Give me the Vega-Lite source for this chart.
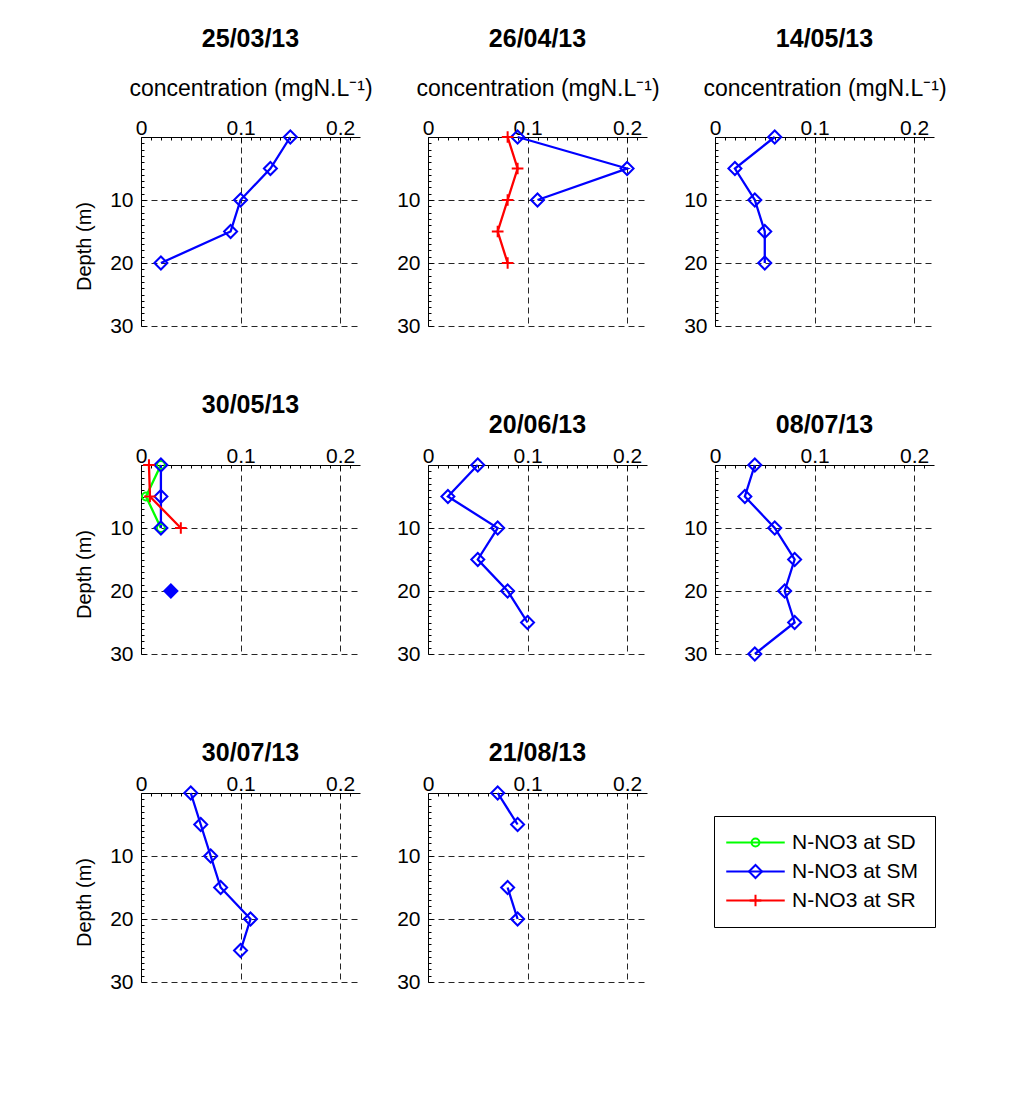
{
  "$schema": "https://vega.github.io/schema/vega-lite/v6.json",
  "background": "white",
  "padding": {"left": 74, "top": 27, "right": 5, "bottom": 5},
  "config": {
    "font": "Liberation Sans",
    "view": {"stroke": null},
    "title": {"fontSize": 25, "fontWeight": "bold", "font": "Liberation Sans", "color": "black", "anchor": "middle"},
    "axis": {
      "labelFont": "Liberation Sans", "labelFontSize": 21, "labelColor": "black",
      "titleFont": "Liberation Sans", "titleFontSize": 23, "titleFontWeight": "normal", "titleColor": "black",
      "domainColor": "black", "domainWidth": 1, "tickColor": "black", "tickWidth": 1,
      "gridColor": "black", "gridDash": [6, 4], "gridOpacity": 0.85, "gridWidth": 1,
      "labelFlush": false, "labelOverlap": false
    },
    "legend": {"labelFont": "Liberation Sans", "labelFontSize": 21, "labelColor": "black"}
  },
  "data": {"values": [
    {"date": "25/03/13", "site": "N-NO3 at SM", "depth": 0, "conc": 0.15},
    {"date": "25/03/13", "site": "N-NO3 at SM", "depth": 5, "conc": 0.13},
    {"date": "25/03/13", "site": "N-NO3 at SM", "depth": 10, "conc": 0.10},
    {"date": "25/03/13", "site": "N-NO3 at SM", "depth": 15, "conc": 0.09},
    {"date": "25/03/13", "site": "N-NO3 at SM", "depth": 20, "conc": 0.02},
    {"date": "26/04/13", "site": "N-NO3 at SM", "depth": 0, "conc": 0.09},
    {"date": "26/04/13", "site": "N-NO3 at SM", "depth": 5, "conc": 0.20},
    {"date": "26/04/13", "site": "N-NO3 at SM", "depth": 10, "conc": 0.11},
    {"date": "26/04/13", "site": "N-NO3 at SR", "depth": 0, "conc": 0.08},
    {"date": "26/04/13", "site": "N-NO3 at SR", "depth": 5, "conc": 0.09},
    {"date": "26/04/13", "site": "N-NO3 at SR", "depth": 10, "conc": 0.08},
    {"date": "26/04/13", "site": "N-NO3 at SR", "depth": 15, "conc": 0.07},
    {"date": "26/04/13", "site": "N-NO3 at SR", "depth": 20, "conc": 0.08},
    {"date": "14/05/13", "site": "N-NO3 at SM", "depth": 0, "conc": 0.06},
    {"date": "14/05/13", "site": "N-NO3 at SM", "depth": 5, "conc": 0.02},
    {"date": "14/05/13", "site": "N-NO3 at SM", "depth": 10, "conc": 0.04},
    {"date": "14/05/13", "site": "N-NO3 at SM", "depth": 15, "conc": 0.05},
    {"date": "14/05/13", "site": "N-NO3 at SM", "depth": 20, "conc": 0.05},
    {"date": "30/05/13", "site": "N-NO3 at SD", "depth": 0, "conc": 0.02},
    {"date": "30/05/13", "site": "N-NO3 at SD", "depth": 5, "conc": 0.005},
    {"date": "30/05/13", "site": "N-NO3 at SD", "depth": 10, "conc": 0.02},
    {"date": "30/05/13", "site": "N-NO3 at SM", "depth": 0, "conc": 0.02},
    {"date": "30/05/13", "site": "N-NO3 at SM", "depth": 5, "conc": 0.02},
    {"date": "30/05/13", "site": "N-NO3 at SM", "depth": 10, "conc": 0.02},
    {"date": "30/05/13", "site": "N-NO3 at SM", "depth": 15, "conc": null},
    {"date": "30/05/13", "site": "N-NO3 at SM", "depth": 20, "conc": 0.03},
    {"date": "30/05/13", "site": "N-NO3 at SR", "depth": 0, "conc": 0.008},
    {"date": "30/05/13", "site": "N-NO3 at SR", "depth": 5, "conc": 0.009},
    {"date": "30/05/13", "site": "N-NO3 at SR", "depth": 10, "conc": 0.04},
    {"date": "20/06/13", "site": "N-NO3 at SM", "depth": 0, "conc": 0.05},
    {"date": "20/06/13", "site": "N-NO3 at SM", "depth": 5, "conc": 0.02},
    {"date": "20/06/13", "site": "N-NO3 at SM", "depth": 10, "conc": 0.07},
    {"date": "20/06/13", "site": "N-NO3 at SM", "depth": 15, "conc": 0.05},
    {"date": "20/06/13", "site": "N-NO3 at SM", "depth": 20, "conc": 0.08},
    {"date": "20/06/13", "site": "N-NO3 at SM", "depth": 25, "conc": 0.10},
    {"date": "08/07/13", "site": "N-NO3 at SM", "depth": 0, "conc": 0.04},
    {"date": "08/07/13", "site": "N-NO3 at SM", "depth": 5, "conc": 0.03},
    {"date": "08/07/13", "site": "N-NO3 at SM", "depth": 10, "conc": 0.06},
    {"date": "08/07/13", "site": "N-NO3 at SM", "depth": 15, "conc": 0.08},
    {"date": "08/07/13", "site": "N-NO3 at SM", "depth": 20, "conc": 0.07},
    {"date": "08/07/13", "site": "N-NO3 at SM", "depth": 25, "conc": 0.08},
    {"date": "08/07/13", "site": "N-NO3 at SM", "depth": 30, "conc": 0.04},
    {"date": "30/07/13", "site": "N-NO3 at SM", "depth": 0, "conc": 0.05},
    {"date": "30/07/13", "site": "N-NO3 at SM", "depth": 5, "conc": 0.06},
    {"date": "30/07/13", "site": "N-NO3 at SM", "depth": 10, "conc": 0.07},
    {"date": "30/07/13", "site": "N-NO3 at SM", "depth": 15, "conc": 0.08},
    {"date": "30/07/13", "site": "N-NO3 at SM", "depth": 20, "conc": 0.11},
    {"date": "30/07/13", "site": "N-NO3 at SM", "depth": 25, "conc": 0.10},
    {"date": "21/08/13", "site": "N-NO3 at SM", "depth": 0, "conc": 0.07},
    {"date": "21/08/13", "site": "N-NO3 at SM", "depth": 5, "conc": 0.09},
    {"date": "21/08/13", "site": "N-NO3 at SM", "depth": 10, "conc": null},
    {"date": "21/08/13", "site": "N-NO3 at SM", "depth": 15, "conc": 0.08},
    {"date": "21/08/13", "site": "N-NO3 at SM", "depth": 20, "conc": 0.09}
  ]},
  "columns": 3,
  "bounds": "flush",
  "spacing": {"row": 139, "column": 68},
  "concat": [
    {
      "title": {"text": "25/03/13", "frame": "group", "offset": 25},
      "width": 219, "height": 189,
      "transform": [{"filter": "datum.date === '25/03/13'"}],
      "layer": [
        {"mark": {"type": "line", "strokeWidth": 2.3, "invalid": "break-paths-show-domains"},
         "encoding": {
           "x": {"field": "conc", "type": "quantitative", "scale": {"domain": [0, 0.22], "nice": false, "zero": false}, "axis": {"orient": "top", "values": [0, 0.1, 0.2], "format": "~g", "grid": true, "tickSize": -5, "labelPadding": 4, "title": "concentration (mgN.L⁻¹)", "titlePadding": 17}},
           "y": {"field": "depth", "type": "quantitative", "scale": {"domain": [0, 30], "reverse": true, "nice": false, "zero": false}, "axis": {"orient": "left", "values": [10, 20, 30], "grid": true, "tickSize": -5, "labelPadding": 13, "title": "Depth (m)", "titleFontSize": 20, "titlePadding": 15, "titleY": 109}},
           "stroke": {"field": "site", "type": "nominal", "scale": {"range": ["#00ff00", "#0000ff", "#ff0000"]},
             "legend": {"title": null, "orient": "none", "legendX": 573, "legendY": 679, "strokeColor": "black", "padding": 16, "labelOffset": 26, "labelOpacity": 0, "symbolSize": 169, "symbolOffset": 15, "symbolType": "M-4.5,0H4.5", "symbolStrokeWidth": 2, "rowPadding": 7}},
           "order": {"field": "depth", "type": "quantitative"}
         }},
        {"mark": {"type": "point", "filled": false, "size": 169, "strokeWidth": 2, "opacity": 1},
         "encoding": {
           "x": {"field": "conc", "type": "quantitative", "axis": {"orient": "top", "values": [0.01,0.02,0.03,0.04,0.05,0.06,0.07,0.08,0.09,0.11,0.12,0.13,0.14,0.15,0.16,0.17,0.18,0.19,0.21], "labels": false, "grid": false, "domain": false, "tickSize": -3, "title": null}},
           "y": {"field": "depth", "type": "quantitative", "axis": {"orient": "left", "values": [1,2,3,4,5,6,7,8,9,11,12,13,14,15,16,17,18,19,21,22,23,24,25,26,27,28,29], "labels": false, "grid": false, "domain": false, "tickSize": -3, "title": null}},
           "color": {"field": "site", "type": "nominal", "scale": {"domain": ["N-NO3 at SD", "N-NO3 at SM", "N-NO3 at SR"], "range": ["#00ff00", "#0000ff", "#ff0000"]},
             "legend": {"title": null, "orient": "none", "legendX": 573, "legendY": 679, "padding": 16, "labelOffset": 26, "symbolSize": 169, "symbolOffset": 15, "symbolStrokeWidth": 2, "rowPadding": 7}},
           "shape": {"field": "site", "type": "nominal", "scale": {"domain": ["N-NO3 at SD", "N-NO3 at SM", "N-NO3 at SR"], "range": ["M0.6,0A0.6,0.6 0 1,1 -0.6,0A0.6,0.6 0 1,1 0.6,0", "diamond", "M-0.9,0H0.9M0,-0.9V0.9"]},
             "legend": {"title": null, "orient": "none", "legendX": 573, "legendY": 679, "padding": 16, "labelOffset": 26, "symbolSize": 169, "symbolOffset": 15, "symbolStrokeWidth": 2, "rowPadding": 7}}
         }}
      ],
      "resolve": {"axis": {"x": "independent", "y": "independent"}}
    },
    {
      "title": {"text": "26/04/13", "frame": "group", "offset": 25},
      "width": 219, "height": 189,
      "transform": [{"filter": "datum.date === '26/04/13'"}],
      "layer": [
        {"mark": {"type": "line", "strokeWidth": 2.3, "invalid": "break-paths-show-domains"},
         "encoding": {
           "x": {"field": "conc", "type": "quantitative", "scale": {"domain": [0, 0.22], "nice": false, "zero": false}, "axis": {"orient": "top", "values": [0, 0.1, 0.2], "format": "~g", "grid": true, "tickSize": -5, "labelPadding": 4, "title": "concentration (mgN.L⁻¹)", "titlePadding": 17}},
           "y": {"field": "depth", "type": "quantitative", "scale": {"domain": [0, 30], "reverse": true, "nice": false, "zero": false}, "axis": {"orient": "left", "values": [10, 20, 30], "grid": true, "tickSize": -5, "labelPadding": 13, "title": null}},
           "stroke": {"field": "site", "type": "nominal", "scale": {"range": ["#00ff00", "#0000ff", "#ff0000"]}},
           "order": {"field": "depth", "type": "quantitative"}
         }},
        {"mark": {"type": "point", "filled": false, "size": 169, "strokeWidth": 2, "opacity": 1},
         "encoding": {
           "x": {"field": "conc", "type": "quantitative", "axis": {"orient": "top", "values": [0.01,0.02,0.03,0.04,0.05,0.06,0.07,0.08,0.09,0.11,0.12,0.13,0.14,0.15,0.16,0.17,0.18,0.19,0.21], "labels": false, "grid": false, "domain": false, "tickSize": -3, "title": null}},
           "y": {"field": "depth", "type": "quantitative", "axis": {"orient": "left", "values": [1,2,3,4,5,6,7,8,9,11,12,13,14,15,16,17,18,19,21,22,23,24,25,26,27,28,29], "labels": false, "grid": false, "domain": false, "tickSize": -3, "title": null}},
           "color": {"field": "site", "type": "nominal", "scale": {"domain": ["N-NO3 at SD", "N-NO3 at SM", "N-NO3 at SR"], "range": ["#00ff00", "#0000ff", "#ff0000"]}},
           "shape": {"field": "site", "type": "nominal", "scale": {"domain": ["N-NO3 at SD", "N-NO3 at SM", "N-NO3 at SR"], "range": ["M0.6,0A0.6,0.6 0 1,1 -0.6,0A0.6,0.6 0 1,1 0.6,0", "diamond", "M-0.9,0H0.9M0,-0.9V0.9"]}}
         }}
      ],
      "resolve": {"axis": {"x": "independent", "y": "independent"}}
    },
    {
      "title": {"text": "14/05/13", "frame": "group", "offset": 25},
      "width": 219, "height": 189,
      "transform": [{"filter": "datum.date === '14/05/13'"}],
      "layer": [
        {"mark": {"type": "line", "strokeWidth": 2.3, "invalid": "break-paths-show-domains"},
         "encoding": {
           "x": {"field": "conc", "type": "quantitative", "scale": {"domain": [0, 0.22], "nice": false, "zero": false}, "axis": {"orient": "top", "values": [0, 0.1, 0.2], "format": "~g", "grid": true, "tickSize": -5, "labelPadding": 4, "title": "concentration (mgN.L⁻¹)", "titlePadding": 17}},
           "y": {"field": "depth", "type": "quantitative", "scale": {"domain": [0, 30], "reverse": true, "nice": false, "zero": false}, "axis": {"orient": "left", "values": [10, 20, 30], "grid": true, "tickSize": -5, "labelPadding": 13, "title": null}},
           "stroke": {"field": "site", "type": "nominal", "scale": {"range": ["#00ff00", "#0000ff", "#ff0000"]}},
           "order": {"field": "depth", "type": "quantitative"}
         }},
        {"mark": {"type": "point", "filled": false, "size": 169, "strokeWidth": 2, "opacity": 1},
         "encoding": {
           "x": {"field": "conc", "type": "quantitative", "axis": {"orient": "top", "values": [0.01,0.02,0.03,0.04,0.05,0.06,0.07,0.08,0.09,0.11,0.12,0.13,0.14,0.15,0.16,0.17,0.18,0.19,0.21], "labels": false, "grid": false, "domain": false, "tickSize": -3, "title": null}},
           "y": {"field": "depth", "type": "quantitative", "axis": {"orient": "left", "values": [1,2,3,4,5,6,7,8,9,11,12,13,14,15,16,17,18,19,21,22,23,24,25,26,27,28,29], "labels": false, "grid": false, "domain": false, "tickSize": -3, "title": null}},
           "color": {"field": "site", "type": "nominal", "scale": {"domain": ["N-NO3 at SD", "N-NO3 at SM", "N-NO3 at SR"], "range": ["#00ff00", "#0000ff", "#ff0000"]}},
           "shape": {"field": "site", "type": "nominal", "scale": {"domain": ["N-NO3 at SD", "N-NO3 at SM", "N-NO3 at SR"], "range": ["M0.6,0A0.6,0.6 0 1,1 -0.6,0A0.6,0.6 0 1,1 0.6,0", "diamond", "M-0.9,0H0.9M0,-0.9V0.9"]}}
         }}
      ],
      "resolve": {"axis": {"x": "independent", "y": "independent"}}
    },
    {
      "title": {"text": "30/05/13", "frame": "group", "offset": 27},
      "width": 219, "height": 189,
      "transform": [{"filter": "datum.date === '30/05/13'"}],
      "layer": [
        {"mark": {"type": "line", "strokeWidth": 2.3, "invalid": "break-paths-show-domains"},
         "encoding": {
           "x": {"field": "conc", "type": "quantitative", "scale": {"domain": [0, 0.22], "nice": false, "zero": false}, "axis": {"orient": "top", "values": [0, 0.1, 0.2], "format": "~g", "grid": true, "tickSize": -5, "labelPadding": 4, "title": null}},
           "y": {"field": "depth", "type": "quantitative", "scale": {"domain": [0, 30], "reverse": true, "nice": false, "zero": false}, "axis": {"orient": "left", "values": [10, 20, 30], "grid": true, "tickSize": -5, "labelPadding": 13, "title": "Depth (m)", "titleFontSize": 20, "titlePadding": 15, "titleY": 109}},
           "stroke": {"field": "site", "type": "nominal", "scale": {"range": ["#00ff00", "#0000ff", "#ff0000"]}},
           "order": {"field": "depth", "type": "quantitative"}
         }},
        {"mark": {"type": "point", "filled": false, "size": 169, "strokeWidth": 2, "opacity": 1},
         "encoding": {
           "x": {"field": "conc", "type": "quantitative", "axis": {"orient": "top", "values": [0.01,0.02,0.03,0.04,0.05,0.06,0.07,0.08,0.09,0.11,0.12,0.13,0.14,0.15,0.16,0.17,0.18,0.19,0.21], "labels": false, "grid": false, "domain": false, "tickSize": -3, "title": null}},
           "y": {"field": "depth", "type": "quantitative", "axis": {"orient": "left", "values": [1,2,3,4,5,6,7,8,9,11,12,13,14,15,16,17,18,19,21,22,23,24,25,26,27,28,29], "labels": false, "grid": false, "domain": false, "tickSize": -3, "title": null}},
           "color": {"field": "site", "type": "nominal", "scale": {"domain": ["N-NO3 at SD", "N-NO3 at SM", "N-NO3 at SR"], "range": ["#00ff00", "#0000ff", "#ff0000"]}},
           "fill": {"condition": {"test": "datum.depth === 20", "value": "#0000ff"}, "value": "transparent"},
           "shape": {"field": "site", "type": "nominal", "scale": {"domain": ["N-NO3 at SD", "N-NO3 at SM", "N-NO3 at SR"], "range": ["M0.6,0A0.6,0.6 0 1,1 -0.6,0A0.6,0.6 0 1,1 0.6,0", "diamond", "M-0.9,0H0.9M0,-0.9V0.9"]}}
         }}
      ],
      "resolve": {"axis": {"x": "independent", "y": "independent"}}
    },
    {
      "title": {"text": "20/06/13", "frame": "group", "offset": 7},
      "width": 219, "height": 189,
      "transform": [{"filter": "datum.date === '20/06/13'"}],
      "layer": [
        {"mark": {"type": "line", "strokeWidth": 2.3, "invalid": "break-paths-show-domains"},
         "encoding": {
           "x": {"field": "conc", "type": "quantitative", "scale": {"domain": [0, 0.22], "nice": false, "zero": false}, "axis": {"orient": "top", "values": [0, 0.1, 0.2], "format": "~g", "grid": true, "tickSize": -5, "labelPadding": 4, "title": null}},
           "y": {"field": "depth", "type": "quantitative", "scale": {"domain": [0, 30], "reverse": true, "nice": false, "zero": false}, "axis": {"orient": "left", "values": [10, 20, 30], "grid": true, "tickSize": -5, "labelPadding": 13, "title": null}},
           "stroke": {"field": "site", "type": "nominal", "scale": {"range": ["#00ff00", "#0000ff", "#ff0000"]}},
           "order": {"field": "depth", "type": "quantitative"}
         }},
        {"mark": {"type": "point", "filled": false, "size": 169, "strokeWidth": 2, "opacity": 1},
         "encoding": {
           "x": {"field": "conc", "type": "quantitative", "axis": {"orient": "top", "values": [0.01,0.02,0.03,0.04,0.05,0.06,0.07,0.08,0.09,0.11,0.12,0.13,0.14,0.15,0.16,0.17,0.18,0.19,0.21], "labels": false, "grid": false, "domain": false, "tickSize": -3, "title": null}},
           "y": {"field": "depth", "type": "quantitative", "axis": {"orient": "left", "values": [1,2,3,4,5,6,7,8,9,11,12,13,14,15,16,17,18,19,21,22,23,24,25,26,27,28,29], "labels": false, "grid": false, "domain": false, "tickSize": -3, "title": null}},
           "color": {"field": "site", "type": "nominal", "scale": {"domain": ["N-NO3 at SD", "N-NO3 at SM", "N-NO3 at SR"], "range": ["#00ff00", "#0000ff", "#ff0000"]}},
           "shape": {"field": "site", "type": "nominal", "scale": {"domain": ["N-NO3 at SD", "N-NO3 at SM", "N-NO3 at SR"], "range": ["M0.6,0A0.6,0.6 0 1,1 -0.6,0A0.6,0.6 0 1,1 0.6,0", "diamond", "M-0.9,0H0.9M0,-0.9V0.9"]}}
         }}
      ],
      "resolve": {"axis": {"x": "independent", "y": "independent"}}
    },
    {
      "title": {"text": "08/07/13", "frame": "group", "offset": 7},
      "width": 219, "height": 189,
      "transform": [{"filter": "datum.date === '08/07/13'"}],
      "layer": [
        {"mark": {"type": "line", "strokeWidth": 2.3, "invalid": "break-paths-show-domains"},
         "encoding": {
           "x": {"field": "conc", "type": "quantitative", "scale": {"domain": [0, 0.22], "nice": false, "zero": false}, "axis": {"orient": "top", "values": [0, 0.1, 0.2], "format": "~g", "grid": true, "tickSize": -5, "labelPadding": 4, "title": null}},
           "y": {"field": "depth", "type": "quantitative", "scale": {"domain": [0, 30], "reverse": true, "nice": false, "zero": false}, "axis": {"orient": "left", "values": [10, 20, 30], "grid": true, "tickSize": -5, "labelPadding": 13, "title": null}},
           "stroke": {"field": "site", "type": "nominal", "scale": {"range": ["#00ff00", "#0000ff", "#ff0000"]}},
           "order": {"field": "depth", "type": "quantitative"}
         }},
        {"mark": {"type": "point", "filled": false, "size": 169, "strokeWidth": 2, "opacity": 1},
         "encoding": {
           "x": {"field": "conc", "type": "quantitative", "axis": {"orient": "top", "values": [0.01,0.02,0.03,0.04,0.05,0.06,0.07,0.08,0.09,0.11,0.12,0.13,0.14,0.15,0.16,0.17,0.18,0.19,0.21], "labels": false, "grid": false, "domain": false, "tickSize": -3, "title": null}},
           "y": {"field": "depth", "type": "quantitative", "axis": {"orient": "left", "values": [1,2,3,4,5,6,7,8,9,11,12,13,14,15,16,17,18,19,21,22,23,24,25,26,27,28,29], "labels": false, "grid": false, "domain": false, "tickSize": -3, "title": null}},
           "color": {"field": "site", "type": "nominal", "scale": {"domain": ["N-NO3 at SD", "N-NO3 at SM", "N-NO3 at SR"], "range": ["#00ff00", "#0000ff", "#ff0000"]}},
           "shape": {"field": "site", "type": "nominal", "scale": {"domain": ["N-NO3 at SD", "N-NO3 at SM", "N-NO3 at SR"], "range": ["M0.6,0A0.6,0.6 0 1,1 -0.6,0A0.6,0.6 0 1,1 0.6,0", "diamond", "M-0.9,0H0.9M0,-0.9V0.9"]}}
         }}
      ],
      "resolve": {"axis": {"x": "independent", "y": "independent"}}
    },
    {
      "title": {"text": "30/07/13", "frame": "group", "offset": 7},
      "width": 219, "height": 189,
      "transform": [{"filter": "datum.date === '30/07/13'"}],
      "layer": [
        {"mark": {"type": "line", "strokeWidth": 2.3, "invalid": "break-paths-show-domains"},
         "encoding": {
           "x": {"field": "conc", "type": "quantitative", "scale": {"domain": [0, 0.22], "nice": false, "zero": false}, "axis": {"orient": "top", "values": [0, 0.1, 0.2], "format": "~g", "grid": true, "tickSize": -5, "labelPadding": 4, "title": null}},
           "y": {"field": "depth", "type": "quantitative", "scale": {"domain": [0, 30], "reverse": true, "nice": false, "zero": false}, "axis": {"orient": "left", "values": [10, 20, 30], "grid": true, "tickSize": -5, "labelPadding": 13, "title": "Depth (m)", "titleFontSize": 20, "titlePadding": 15, "titleY": 109}},
           "stroke": {"field": "site", "type": "nominal", "scale": {"range": ["#00ff00", "#0000ff", "#ff0000"]}},
           "order": {"field": "depth", "type": "quantitative"}
         }},
        {"mark": {"type": "point", "filled": false, "size": 169, "strokeWidth": 2, "opacity": 1},
         "encoding": {
           "x": {"field": "conc", "type": "quantitative", "axis": {"orient": "top", "values": [0.01,0.02,0.03,0.04,0.05,0.06,0.07,0.08,0.09,0.11,0.12,0.13,0.14,0.15,0.16,0.17,0.18,0.19,0.21], "labels": false, "grid": false, "domain": false, "tickSize": -3, "title": null}},
           "y": {"field": "depth", "type": "quantitative", "axis": {"orient": "left", "values": [1,2,3,4,5,6,7,8,9,11,12,13,14,15,16,17,18,19,21,22,23,24,25,26,27,28,29], "labels": false, "grid": false, "domain": false, "tickSize": -3, "title": null}},
           "color": {"field": "site", "type": "nominal", "scale": {"domain": ["N-NO3 at SD", "N-NO3 at SM", "N-NO3 at SR"], "range": ["#00ff00", "#0000ff", "#ff0000"]}},
           "shape": {"field": "site", "type": "nominal", "scale": {"domain": ["N-NO3 at SD", "N-NO3 at SM", "N-NO3 at SR"], "range": ["M0.6,0A0.6,0.6 0 1,1 -0.6,0A0.6,0.6 0 1,1 0.6,0", "diamond", "M-0.9,0H0.9M0,-0.9V0.9"]}}
         }}
      ],
      "resolve": {"axis": {"x": "independent", "y": "independent"}}
    },
    {
      "title": {"text": "21/08/13", "frame": "group", "offset": 7},
      "width": 219, "height": 189,
      "transform": [{"filter": "datum.date === '21/08/13'"}],
      "layer": [
        {"mark": {"type": "line", "strokeWidth": 2.3, "invalid": "break-paths-show-domains"},
         "encoding": {
           "x": {"field": "conc", "type": "quantitative", "scale": {"domain": [0, 0.22], "nice": false, "zero": false}, "axis": {"orient": "top", "values": [0, 0.1, 0.2], "format": "~g", "grid": true, "tickSize": -5, "labelPadding": 4, "title": null}},
           "y": {"field": "depth", "type": "quantitative", "scale": {"domain": [0, 30], "reverse": true, "nice": false, "zero": false}, "axis": {"orient": "left", "values": [10, 20, 30], "grid": true, "tickSize": -5, "labelPadding": 13, "title": null}},
           "stroke": {"field": "site", "type": "nominal", "scale": {"range": ["#00ff00", "#0000ff", "#ff0000"]}},
           "order": {"field": "depth", "type": "quantitative"}
         }},
        {"mark": {"type": "point", "filled": false, "size": 169, "strokeWidth": 2, "opacity": 1},
         "encoding": {
           "x": {"field": "conc", "type": "quantitative", "axis": {"orient": "top", "values": [0.01,0.02,0.03,0.04,0.05,0.06,0.07,0.08,0.09,0.11,0.12,0.13,0.14,0.15,0.16,0.17,0.18,0.19,0.21], "labels": false, "grid": false, "domain": false, "tickSize": -3, "title": null}},
           "y": {"field": "depth", "type": "quantitative", "axis": {"orient": "left", "values": [1,2,3,4,5,6,7,8,9,11,12,13,14,15,16,17,18,19,21,22,23,24,25,26,27,28,29], "labels": false, "grid": false, "domain": false, "tickSize": -3, "title": null}},
           "color": {"field": "site", "type": "nominal", "scale": {"domain": ["N-NO3 at SD", "N-NO3 at SM", "N-NO3 at SR"], "range": ["#00ff00", "#0000ff", "#ff0000"]}},
           "shape": {"field": "site", "type": "nominal", "scale": {"domain": ["N-NO3 at SD", "N-NO3 at SM", "N-NO3 at SR"], "range": ["M0.6,0A0.6,0.6 0 1,1 -0.6,0A0.6,0.6 0 1,1 0.6,0", "diamond", "M-0.9,0H0.9M0,-0.9V0.9"]}}
         }}
      ],
      "resolve": {"axis": {"x": "independent", "y": "independent"}}
    }
  ]
}
